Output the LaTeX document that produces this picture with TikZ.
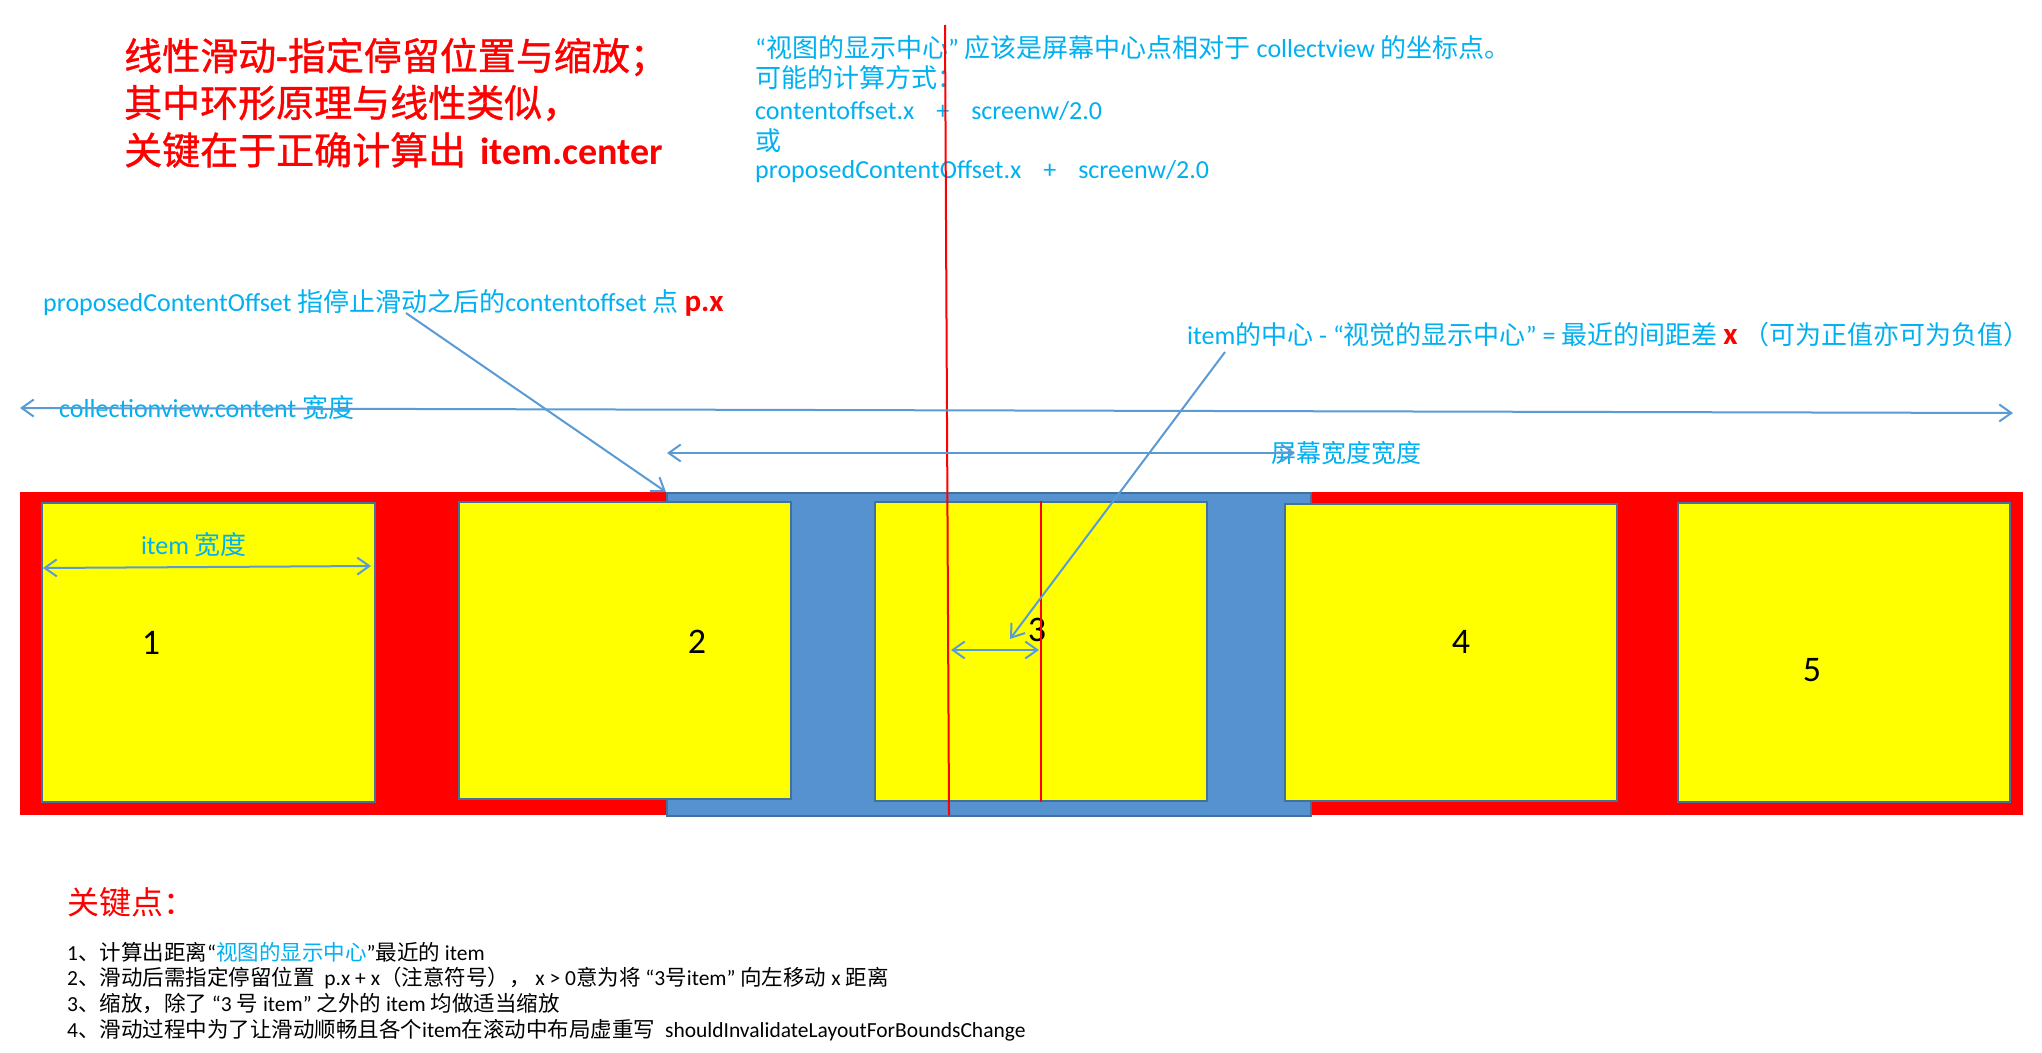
\documentclass[tikz,border=0pt]{standalone}
\usepackage{fontspec}
\setmainfont{Carlito}
\newfontfamily\cjkfont{Noto Sans CJK SC}
\newfontfamily\cjkfontT{Noto Sans CJK SC}[FakeBold=1]
\usetikzlibrary{arrows.meta}
% automatic switch to the CJK font for CJK characters
\let\cjkextra\relax
\XeTeXinterchartokenstate=1
\chardef\CJKcls=17
\newcount\cjkc
\def\setcjkrange#1#2{\cjkc=#1\relax
  \loop\XeTeXcharclass\cjkc=\CJKcls\relax\advance\cjkc by 1\relax\ifnum\cjkc<#2\relax\repeat}
\setcjkrange{"4E00}{"A000}
\setcjkrange{"3000}{"3040}
\setcjkrange{"FF00}{"FFF0}
\XeTeXcharclass"201C=0 \XeTeXcharclass"201D=0 \XeTeXcharclass"2018=0 \XeTeXcharclass"2019=0
\XeTeXinterchartoks 0 \CJKcls = {\begingroup\cjkfont\cjkextra}
\XeTeXinterchartoks 1 \CJKcls = {\begingroup\cjkfont\cjkextra}
\XeTeXinterchartoks 2 \CJKcls = {\begingroup\cjkfont\cjkextra}
\XeTeXinterchartoks 3 \CJKcls = {\begingroup\cjkfont\cjkextra}
\XeTeXinterchartoks 4095 \CJKcls = {\begingroup\cjkfont\cjkextra}
\XeTeXinterchartoks \CJKcls 0 = {\endgroup}
\XeTeXinterchartoks \CJKcls 1 = {\endgroup}
\XeTeXinterchartoks \CJKcls 2 = {\endgroup}
\XeTeXinterchartoks \CJKcls 3 = {\endgroup}
\XeTeXinterchartoks \CJKcls 4095 = {\endgroup}
\definecolor{txtblue}{HTML}{00B0F0}
\definecolor{arrblue}{HTML}{5B9BD5}
\definecolor{scrblue}{HTML}{5592CF}
\definecolor{bord}{HTML}{41719C}
\definecolor{yel}{HTML}{FFFF00}
\definecolor{pred}{HTML}{FF0000}
\tikzset{
  barb/.tip={Straight Barb[length=12pt,width=17pt]},
  conn/.style={draw=arrblue, line width=2pt},
  dbl/.style={conn, barb-barb},
  sgl/.style={conn, -barb},
  lbl/.style={anchor=west, inner sep=0pt, text=txtblue, font=\fontsize{26}{31}\selectfont},
  ttl/.style={anchor=west, inner sep=0pt, text=pred, font=\fontsize{38}{46}\selectfont\bfseries\def\cjkextra{\mdseries\cjkfontT}},
  note/.style={anchor=west, inner sep=0pt, text=black, font=\fontsize{21.5}{26}\selectfont},
  itembox/.style={fill=yel, draw=bord, line width=2pt, inner sep=0pt},
  num/.style={inner sep=0pt, text=black, font=\fontsize{36}{36}\selectfont},
  redline/.style={draw=pred, line width=2pt},
}
\begin{document}
\begin{tikzpicture}[x=1pt,y=-1pt]
\useasboundingbox (0,0) rectangle (2042,1052);
\fill[white] (0,0) rectangle (2042,1052);

% title
\node[ttl] (t1) at (124,57) {线性滑动-指定停留位置与缩放；};
\node[ttl] (t2) at (124,103) {其中环形原理与线性类似，};
\node[ttl] (t3) at (124,150) {关键在于正确计算出\hspace{14pt}item.center};

% top right explanation
\node[lbl] (e1) at (755,48) {“视图的显示中心” 应该是屏幕中心点相对于 collectview 的坐标点。};
\node[lbl] (e2) at (755,78) {可能的计算方式：};
\node[lbl] (e3) at (755,111) {contentoffset.x\hspace{22pt}+\hspace{22pt}screenw/2.0};
\node[lbl] (e4) at (755,141) {或};
\node[lbl] (e5) at (755,172) {proposedContentOffset.x\hspace{22pt}+\hspace{22pt}screenw/2.0};

% strip
\node[fill=pred, minimum width=2003pt, minimum height=323pt, inner sep=0pt, anchor=north west] (strip) at (20,492) {};
\node[fill=scrblue, draw=bord, line width=2pt, minimum width=644pt, minimum height=323pt, inner sep=0pt, anchor=north west] (screen) at (666,492) {};

\node[itembox, minimum width=333pt, minimum height=299pt] (i1) at (208.5,652.5) {};
\node[itembox, minimum width=332pt, minimum height=297pt] (i2) at (625,650.5) {};
\node[itembox, minimum width=332pt, minimum height=299pt] (i3) at (1041,651.5) {};
\node[itembox, minimum width=332pt, minimum height=297pt] (i4) at (1451,652.5) {};
\node[itembox, minimum width=332pt, minimum height=299pt] (i5) at (1844,652.5) {};

\node[num] (n1) at (151,643) {1};
\node[num] (n2) at (697,642) {2};
\node[num] (n3) at (1037,630) {3};
\node[num] (n4) at (1461,642) {4};
\node[num] (n5) at (1812,670) {5};

% red center lines
\coordinate (rtop) at (945,25);
\coordinate (rbot) at (949,815);
\draw[redline] (rtop) -- (rbot);
\draw[redline] (i3.north) -- (i3.south);

% labels with arrows
\node[lbl] (pco) at (43,303) {proposedContentOffset 指停止滑动之后的contentoffset 点 {\color{pred}\bfseries\fontsize{31}{31}\selectfont p.x}};
\coordinate (pcoS) at (406,313);
\draw[sgl] (pcoS) -- (screen.north west);

\node[lbl] (ic) at (1187,335) {item的中心 - “视觉的显示中心” = 最近的间距差 {\color{pred}\bfseries\fontsize{31}{31}\selectfont x} （可为正值亦可为负值）};
\coordinate (icS) at (1225,352);
\coordinate (icE) at (1010,639);
\draw[sgl] (icS) -- (icE);

\node[lbl] (cv) at (59,408) {collectionview.content 宽度};
\coordinate (cvL) at (20,408);
\coordinate (cvR) at (2013,413);
\draw[dbl] (cvL) -- (cvR);

\node[lbl, font=\fontsize{25}{30}\selectfont] (scr) at (1271,453) {屏幕宽度宽度};
\coordinate (scrL) at (667,453);
\coordinate (scrR) at (1295,453);
\draw[dbl] (scrL) -- (scrR);

\node[lbl, anchor=center] (iw) at (194,545) {item 宽度};
\coordinate (iwL) at (43,568);
\coordinate (iwR) at (371,566);
\draw[dbl] (iwL) -- (iwR);

\coordinate (xL) at (951,650);
\coordinate (xR) at (1039,650);
\draw[dbl] (xL) -- (xR);

% key points
\node[anchor=west, inner sep=0pt, text=pred, font=\fontsize{32}{38}\selectfont] (key) at (67,902) {关键点：};
\node[note] (b1) at (67,952) {1、计算出距离“{\color{txtblue}视图的显示中心}”最近的 item};
\node[note] (b2) at (67,978) {2、滑动后需指定停留位置\ \ p.x + x（注意符号），\ x > 0意为将 “3号item” 向左移动 x 距离};
\node[note] (b3) at (67,1004) {3、缩放，除了 “3 号 item” 之外的 item 均做适当缩放};
\node[note] (b4) at (67,1030) {4、滑动过程中为了让滑动顺畅且各个item在滚动中布局虚重写\ \ shouldInvalidateLayoutForBoundsChange};
\end{tikzpicture}
\end{document}
